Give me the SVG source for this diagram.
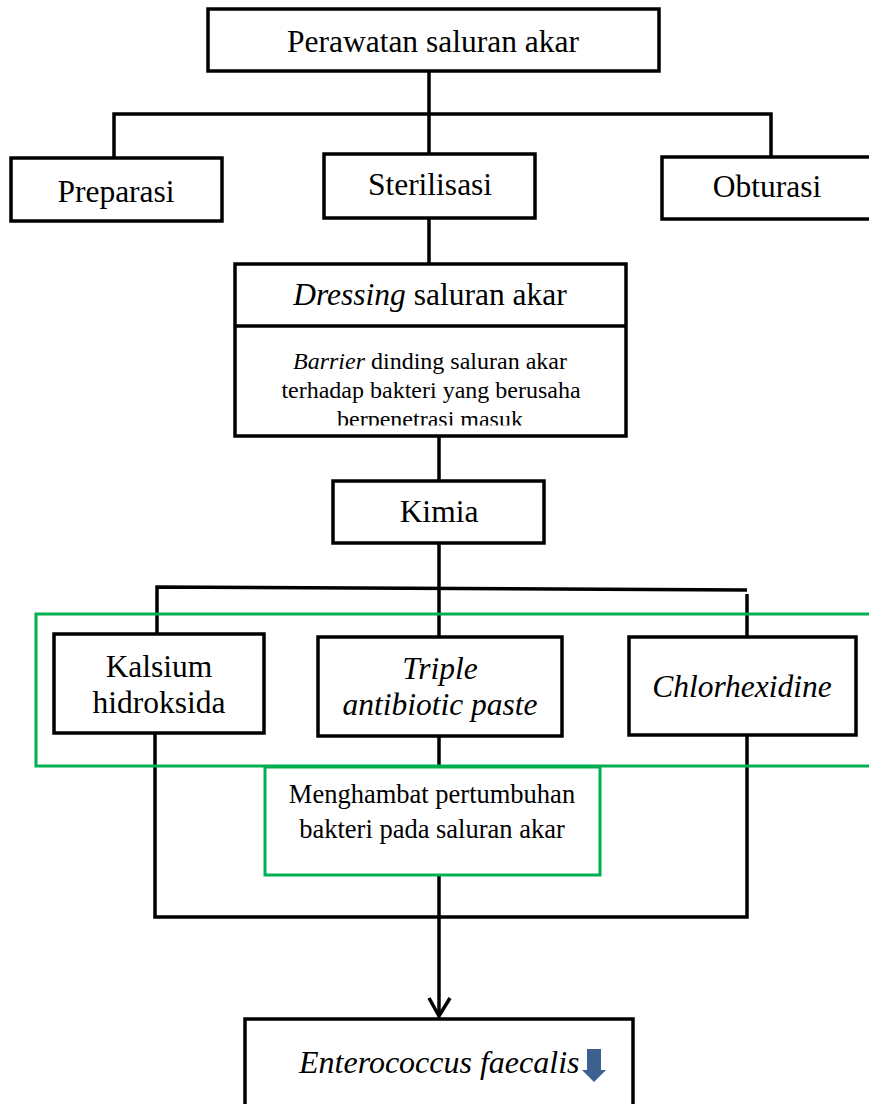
<svg xmlns="http://www.w3.org/2000/svg" width="869" height="1104" viewBox="0 0 869 1104">
<style>
.box{fill:#fff;stroke:#000;stroke-width:3.5}
.gbox{fill:none;stroke:#00b050;stroke-width:3}
.ln{fill:none;stroke:#000;stroke-width:3.5}
.t{font-family:"Liberation Serif","Times New Roman",serif;fill:#000;text-anchor:middle}
.big{font-size:31.5px}
.mid{font-size:26.5px}
.sm{font-size:24px}
.it{font-style:italic}
</style>
<defs>
<clipPath id="dclip"><rect x="237" y="327" width="388" height="98.5"/></clipPath>
</defs>
<rect x="0" y="0" width="869" height="1104" fill="#fff"/>
<g id="connectors">
<line class="ln" x1="429" y1="71" x2="429" y2="155"/>
<polyline class="ln" points="114,158 114,114 771,114 771,157"/>
<line class="ln" x1="429" y1="218" x2="429" y2="264"/>
<line class="ln" x1="439" y1="436" x2="439" y2="481"/>
<line class="ln" x1="439" y1="543" x2="439" y2="637"/>
<polyline class="ln" points="157,635 157,587 747,590"/>
<line class="ln" x1="747" y1="594" x2="747" y2="637"/>
<line class="ln" x1="439" y1="736" x2="439" y2="767"/>
<polyline class="ln" points="155,733 155,917 747,917 747,735"/>
<line class="ln" x1="439" y1="875" x2="439" y2="1016"/>
<polyline class="ln" points="429,998 439,1016 450,998"/>
</g>
<g id="n-perawatan">
<rect class="box" x="208" y="9" width="451" height="62"/>
<text class="t big" x="433" y="52">Perawatan saluran akar</text>
</g>
<g id="n-preparasi">
<rect class="box" x="11" y="158" width="211" height="63"/>
<text class="t big" x="116" y="202">Preparasi</text>
</g>
<g id="n-sterilisasi">
<rect class="box" x="324" y="154" width="211" height="64"/>
<text class="t big" x="430" y="195">Sterilisasi</text>
</g>
<g id="n-obturasi">
<rect class="box" x="662" y="157" width="215" height="62"/>
<text class="t big" x="767" y="197">Obturasi</text>
</g>
<g id="n-dressing">
<rect class="box" x="235" y="264" width="391" height="172"/>
<line class="ln" x1="235" y1="326" x2="626" y2="326"/>
<text class="t big" x="430" y="305"><tspan class="it">Dressing</tspan> saluran akar</text>
<g clip-path="url(#dclip)">
<text class="t sm" x="430" y="369"><tspan class="it">Barrier</tspan> dinding saluran akar</text>
<text class="t sm" x="431" y="398">terhadap bakteri yang berusaha</text>
<text class="t sm" x="430" y="427">berpenetrasi masuk</text>
</g>
</g>
<g id="n-kimia">
<rect class="box" x="333" y="481" width="211" height="62"/>
<text class="t big" x="439" y="522">Kimia</text>
</g>
<g id="g-group">
<rect class="gbox" x="36" y="614" width="845" height="152"/>
</g>
<g id="n-kalsium">
<rect class="box" x="54" y="634" width="210" height="99"/>
<text class="t big" x="159" y="677">Kalsium</text>
<text class="t big" x="159" y="713">hidroksida</text>
</g>
<g id="n-triple">
<rect class="box" x="318" y="637" width="244" height="99"/>
<text class="t big it" x="440" y="679">Triple</text>
<text class="t big it" x="440" y="715">antibiotic paste</text>
</g>
<g id="n-chlorhexidine">
<rect class="box" x="629" y="637" width="227" height="98"/>
<text class="t big it" x="742" y="697">Chlorhexidine</text>
</g>
<g id="n-menghambat">
<rect x="265" y="767" width="335" height="108" fill="#fff" stroke="#00b050" stroke-width="3"/>
<text class="t mid" x="432" y="803">Menghambat pertumbuhan</text>
<text class="t mid" x="432" y="838">bakteri pada saluran akar</text>
</g>
<g id="n-enterococcus">
<rect class="box" x="245" y="1019" width="388" height="100"/>
<text class="t it" x="299" y="1073" style="text-anchor:start;font-size:32px">Enterococcus faecalis</text>
<path d="M587,1049 H601 V1070 H606 L594,1082 L582,1070 H587 Z" fill="#3c6191"/>
</g>
</svg>
